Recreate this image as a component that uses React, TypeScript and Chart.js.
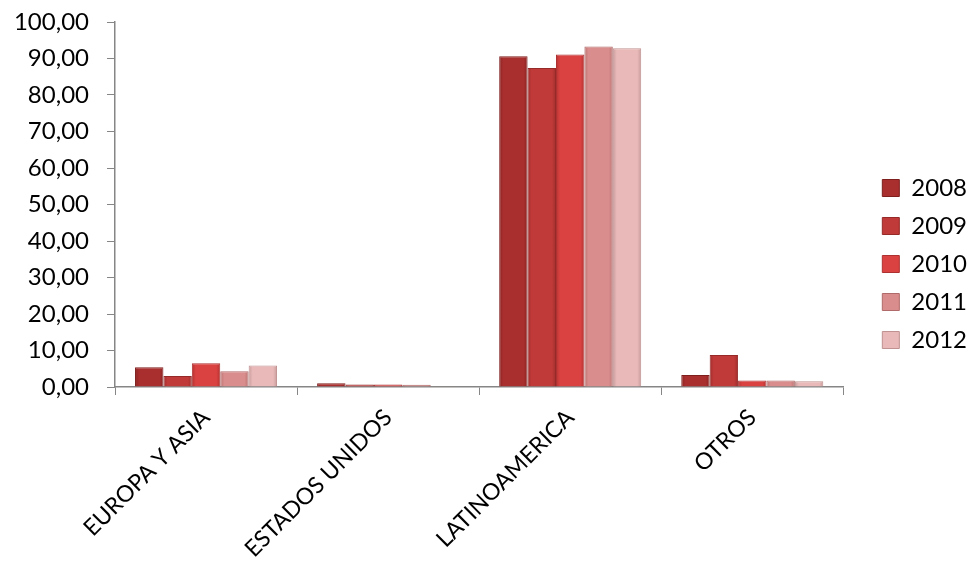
import React, { useEffect, useRef } from "react";
import { Chart, registerables } from "chart.js";

Chart.register(...registerables);

const categories = ["EUROPA Y ASIA", "ESTADOS UNIDOS", "LATINOAMERICA", "OTROS"];
const seriesNames = ["2008", "2009", "2010", "2011", "2012"];
const s2008 = [5.4, 1.0, 90.6, 3.3];
const s2009 = [3.0, 0.7, 87.4, 8.8];
const s2010 = [6.5, 0.7, 91.1, 1.8];
const s2011 = [4.3, 0.6, 93.3, 1.8];
const s2012 = [5.9, 0.1, 92.8, 1.6];
const seriesValues = [s2008, s2009, s2010, s2011, s2012];
const fills = ["#a82f2e", "#c03a39", "#da4241", "#d98d8c", "#e8b9b8"];
const edges = ["#8a2221", "#9e2d2c", "#b43332", "#b87372", "#c99d9c"];
const borders = ["#7e1f1e", "#952a29", "#ad3130", "#b06a69", "#bf9190"];

const FONT = "Lato";
const AXIS = "#868686";
const CAT_PCT = 0.78;

function barFill(i: number) {
  return (ctx: any) => {
    const chart = ctx.chart;
    const xs = chart.scales && chart.scales.x;
    if (!xs || ctx.type !== "data" || xs.width === undefined) return fills[i];
    const n = categories.length;
    const catW = xs.width / n;
    const groupW = catW * CAT_PCT;
    const barW = groupW / seriesNames.length;
    const c = xs.getPixelForValue(ctx.dataIndex);
    const left = c - groupW / 2 + i * barW;
    if (!isFinite(left)) return fills[i];
    const g = chart.ctx.createLinearGradient(left, 0, left + barW, 0);
    g.addColorStop(0, edges[i]);
    g.addColorStop(0.14, fills[i]);
    g.addColorStop(0.86, fills[i]);
    g.addColorStop(1, edges[i]);
    return g;
  };
}

export default function App() {
  const ref = useRef<HTMLCanvasElement | null>(null);

  useEffect(() => {
    document.body.style.margin = "0";
    const canvas = ref.current;
    if (!canvas) return;
    const shiftLegend = {
      id: "shiftLegend",
      afterLayout(chart: any) {
        const lg = chart.legend;
        if (lg) {
          const dy = -28;
          const dx = 25;
          lg.top += dy;
          lg.bottom += dy;
          lg.left += dx;
          lg.right += dx;
        }
      },
    };
    const chart = new Chart(canvas, {
      type: "bar",
      data: {
        labels: categories,
        datasets: seriesNames.map((name, i) => ({
          label: name,
          data: seriesValues[i],
          backgroundColor: barFill(i),
          borderColor: borders[i],
          borderWidth: 1,
          categoryPercentage: CAT_PCT,
          barPercentage: 1,
        })),
      },
      options: {
        animation: false,
        responsive: false,
        devicePixelRatio: 1,
        layout: { padding: { top: 22, right: 20, bottom: 0, left: 0 } },
        plugins: {
          tooltip: { enabled: false },
          legend: {
            position: "right",
            labels: {
              boxWidth: 17,
              boxHeight: 17,
              padding: 14,
              color: "#000",
              font: { family: FONT, size: 24 },
              generateLabels: (chart: any) =>
                chart.data.datasets.map((ds: any, i: number) => ({
                  text: ds.label,
                  fillStyle: fills[i],
                  strokeStyle: borders[i],
                  lineWidth: 1,
                  hidden: !chart.isDatasetVisible(i),
                  datasetIndex: i,
                  fontColor: "#000",
                })),
            },
          },
        },
        scales: {
          x: {
            grid: {
              offset: true,
              drawOnChartArea: false,
              drawTicks: true,
              tickLength: 8,
              color: AXIS,
            },
            border: { color: AXIS, width: 1.5 },
            ticks: {
              color: "#000",
              font: { family: FONT, size: 23 },
              maxRotation: 45,
              minRotation: 45,
              padding: 9,
            },
            afterFit: (scale: any) => {
              scale.height = 175;
              scale.paddingLeft = 0;
              scale.paddingRight = 0;
            },
          },
          y: {
            min: 0,
            max: 100,
            grid: {
              drawOnChartArea: false,
              drawTicks: true,
              tickLength: 8,
              color: AXIS,
            },
            border: { color: AXIS, width: 1.5 },
            ticks: {
              stepSize: 10,
              padding: 18,
              color: "#000",
              font: { family: FONT, size: 24 },
              callback: (v: any) => Number(v).toFixed(2).replace(".", ","),
            },
            afterFit: (scale: any) => {
              scale.width = 115;
              scale.paddingTop = 0;
              scale.paddingBottom = 0;
            },
          },
        },
      },
      plugins: [shiftLegend],
    });
    return () => chart.destroy();
  }, []);

  return (
    <div style={{ width: 972, height: 562, background: "#fff" }}>
      <canvas ref={ref} width={972} height={562} style={{ display: "block" }} />
    </div>
  );
}
